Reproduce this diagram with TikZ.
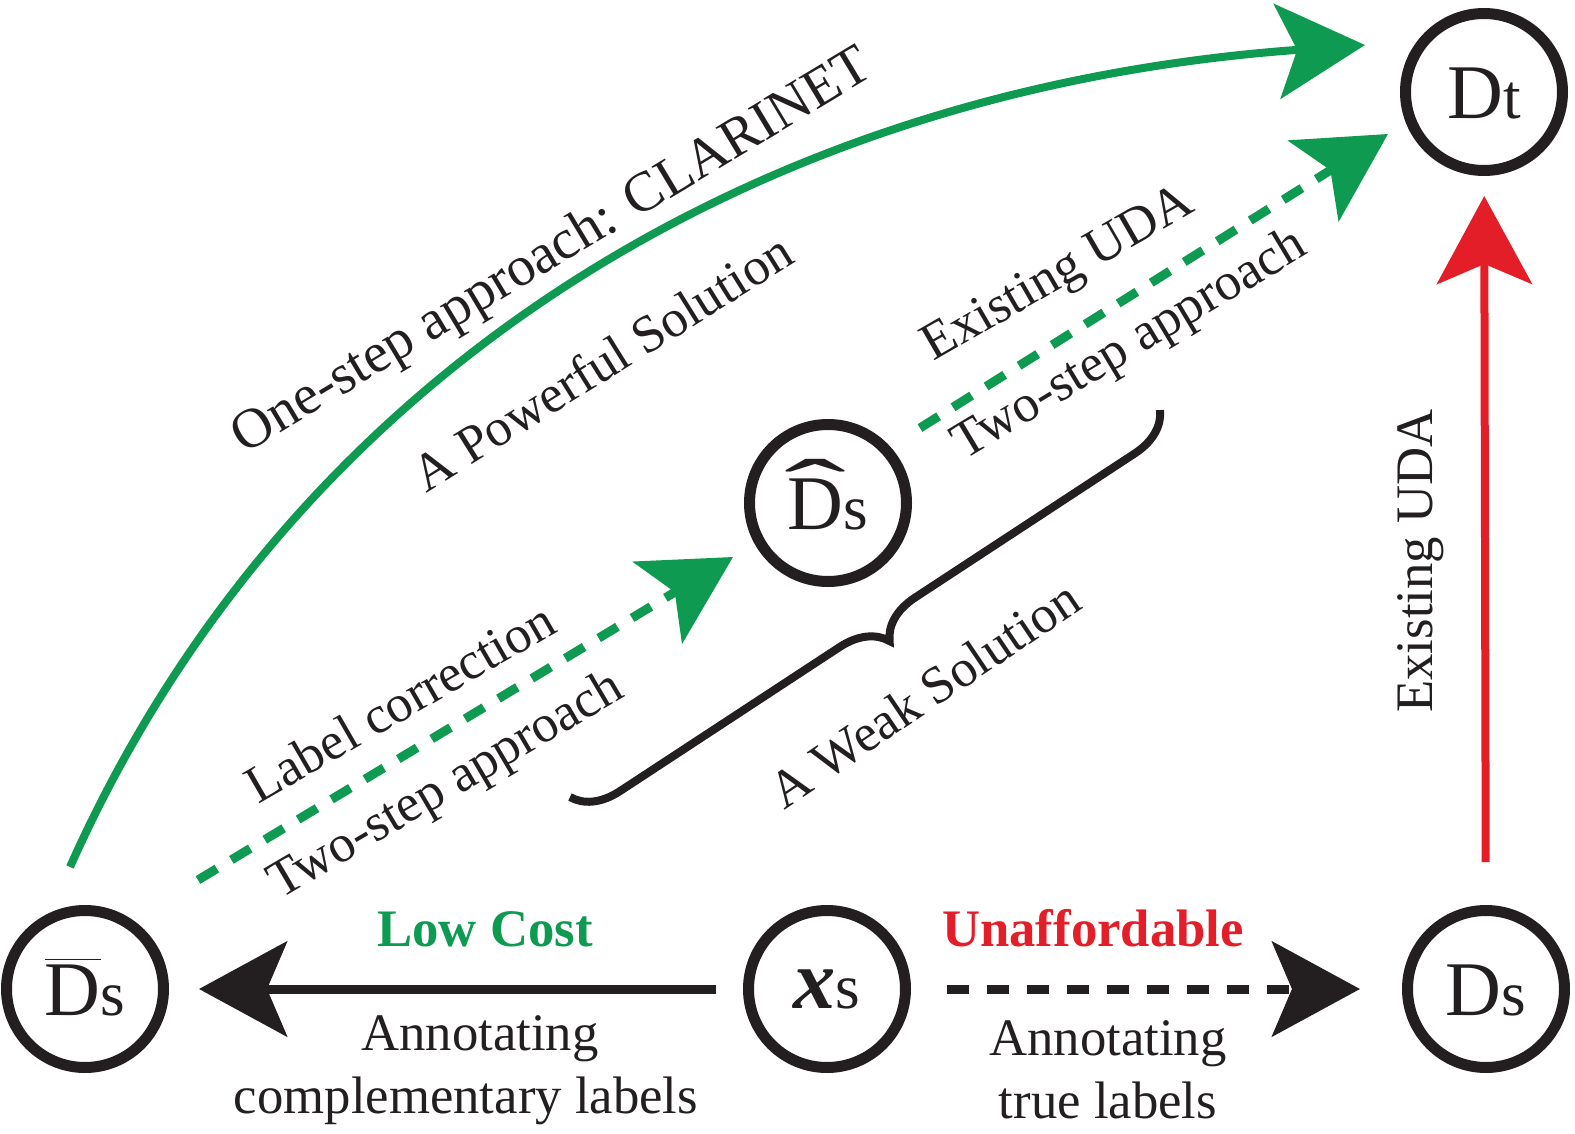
\documentclass[tikz,border=0pt]{standalone}
\usepackage{fontspec}
\setmainfont{Liberation Serif}
\usetikzlibrary{arrows.meta,decorations.pathreplacing}
\definecolor{ink}{RGB}{35,31,32}
\definecolor{grn}{RGB}{14,154,80}
\definecolor{rd}{RGB}{228,30,40}
\newcommand{\smallpart}[1]{{\fontsize{18}{18}\selectfont #1}}
\newcommand{\hatD}{\leavevmode\rlap{\makebox[0.722em]{\raisebox{0.13em}{\scalebox{2.4}[1.1]{\symbol{"02C6}}}}}D}
\begin{document}
\begin{tikzpicture}[
  dom/.style={circle, draw=ink, line width=0.11cm, minimum size=1.57cm, inner sep=0pt,
    text=ink, font=\fontsize{22}{22}\selectfont, text height=0.52cm, text depth=0pt},
  lbl/.style={text=ink, font=\fontsize{15}{18}\selectfont, inner sep=0pt},
  boldlbl/.style={inner sep=0pt, font=\fontsize{15}{18}\selectfont\bfseries, anchor=base},
  bigarrow/.style={-{Stealth[length=0.88cm,width=0.95cm,inset=0.2cm]}},
  dashgreen/.style={grn, line width=0.09cm, dash pattern=on 0.22cm off 0.17cm, bigarrow},
]
\useasboundingbox (0,0) rectangle (15.75,11.33);

% domain nodes
\node[dom] (Dbar) at (0.85,1.44) {$\overline{\mbox{D}}$\smallpart{s}};
\node[dom, text height=0.38cm] (xs) at (8.27,1.44) {{\fontsize{24}{24}\selectfont\textbf{\textit{x}}}\smallpart{s}};
\node[dom] (Ds) at (14.86,1.44) {D\smallpart{s}};
\node[dom] (Dt) at (14.84,10.41) {D\smallpart{t}};
\node[dom] (Dhat) at (8.28,6.30) {\hatD\smallpart{s}};

% bottom connectors
\draw[ink, line width=0.09cm, bigarrow, shorten <=0.27cm, shorten >=0.30cm] (xs) -- (Dbar);
\draw[ink, line width=0.09cm, dash pattern=on 0.22cm off 0.18cm, bigarrow,
      shorten <=0.36cm, shorten >=0.42cm] (xs) -- (Ds);
\draw[rd, line width=0.08cm, bigarrow, shorten <=0.43cm, shorten >=0.20cm] (Ds) -- (Dt);

% green one-step curve
\coordinate (g0) at (0.70,2.66);
\coordinate (g1) at (13.65,10.88);
\draw[grn, line width=0.08cm, bigarrow] (g0) .. controls (2.85,7.48) and (7.40,10.43) .. (g1);

% green two-step dashed arrows
\coordinate (l0) at (1.98,2.53);
\coordinate (l1) at (7.33,5.76);
\draw[dashgreen] (l0) -- (l1);
\coordinate (u0) at (9.20,7.05);
\coordinate (u1) at (13.88,9.99);
\draw[dashgreen] (u0) -- (u1);

% brace
\coordinate (b0) at (5.70,3.36);
\coordinate (b1) at (11.60,7.23);
\draw[ink, line width=0.08cm, decorate, decoration={brace, amplitude=0.45cm, mirror}] (b0) -- (b1);

% rotated labels
\node[lbl, rotate=31, font=\fontsize{16}{18}\selectfont] (t1) at (5.53,8.80) {One-step approach: CLARINET};
\node[lbl, rotate=32] (t2) at (6.02,7.71) {A Powerful Solution};
\node[lbl, rotate=30] (t3) at (10.59,8.57) {Existing UDA};
\node[lbl, rotate=31] (t4) at (11.30,7.87) {Two-step approach};
\node[lbl, rotate=30] (t5) at (4.00,4.31) {Label correction};
\node[lbl, rotate=30.5] (t6) at (4.47,3.46) {Two-step approach};
\node[lbl, rotate=34] (t7) at (9.24,4.39) {A Weak Solution};
\node[lbl, rotate=90] (t8) at (14.21,5.72) {Existing UDA};

% bottom labels
\node[boldlbl, text=grn] (lc) at (4.85,1.87) {Low Cost};
\node[boldlbl, text=rd] (un) at (10.93,1.87) {Unaffordable};
\node[lbl, align=center] (al) at (4.66,0.63) {\hspace*{0.28cm}Annotating\\complementary labels};
\node[lbl, align=center] (ar) at (11.08,0.63) {Annotating\\true labels};
\end{tikzpicture}
\end{document}
